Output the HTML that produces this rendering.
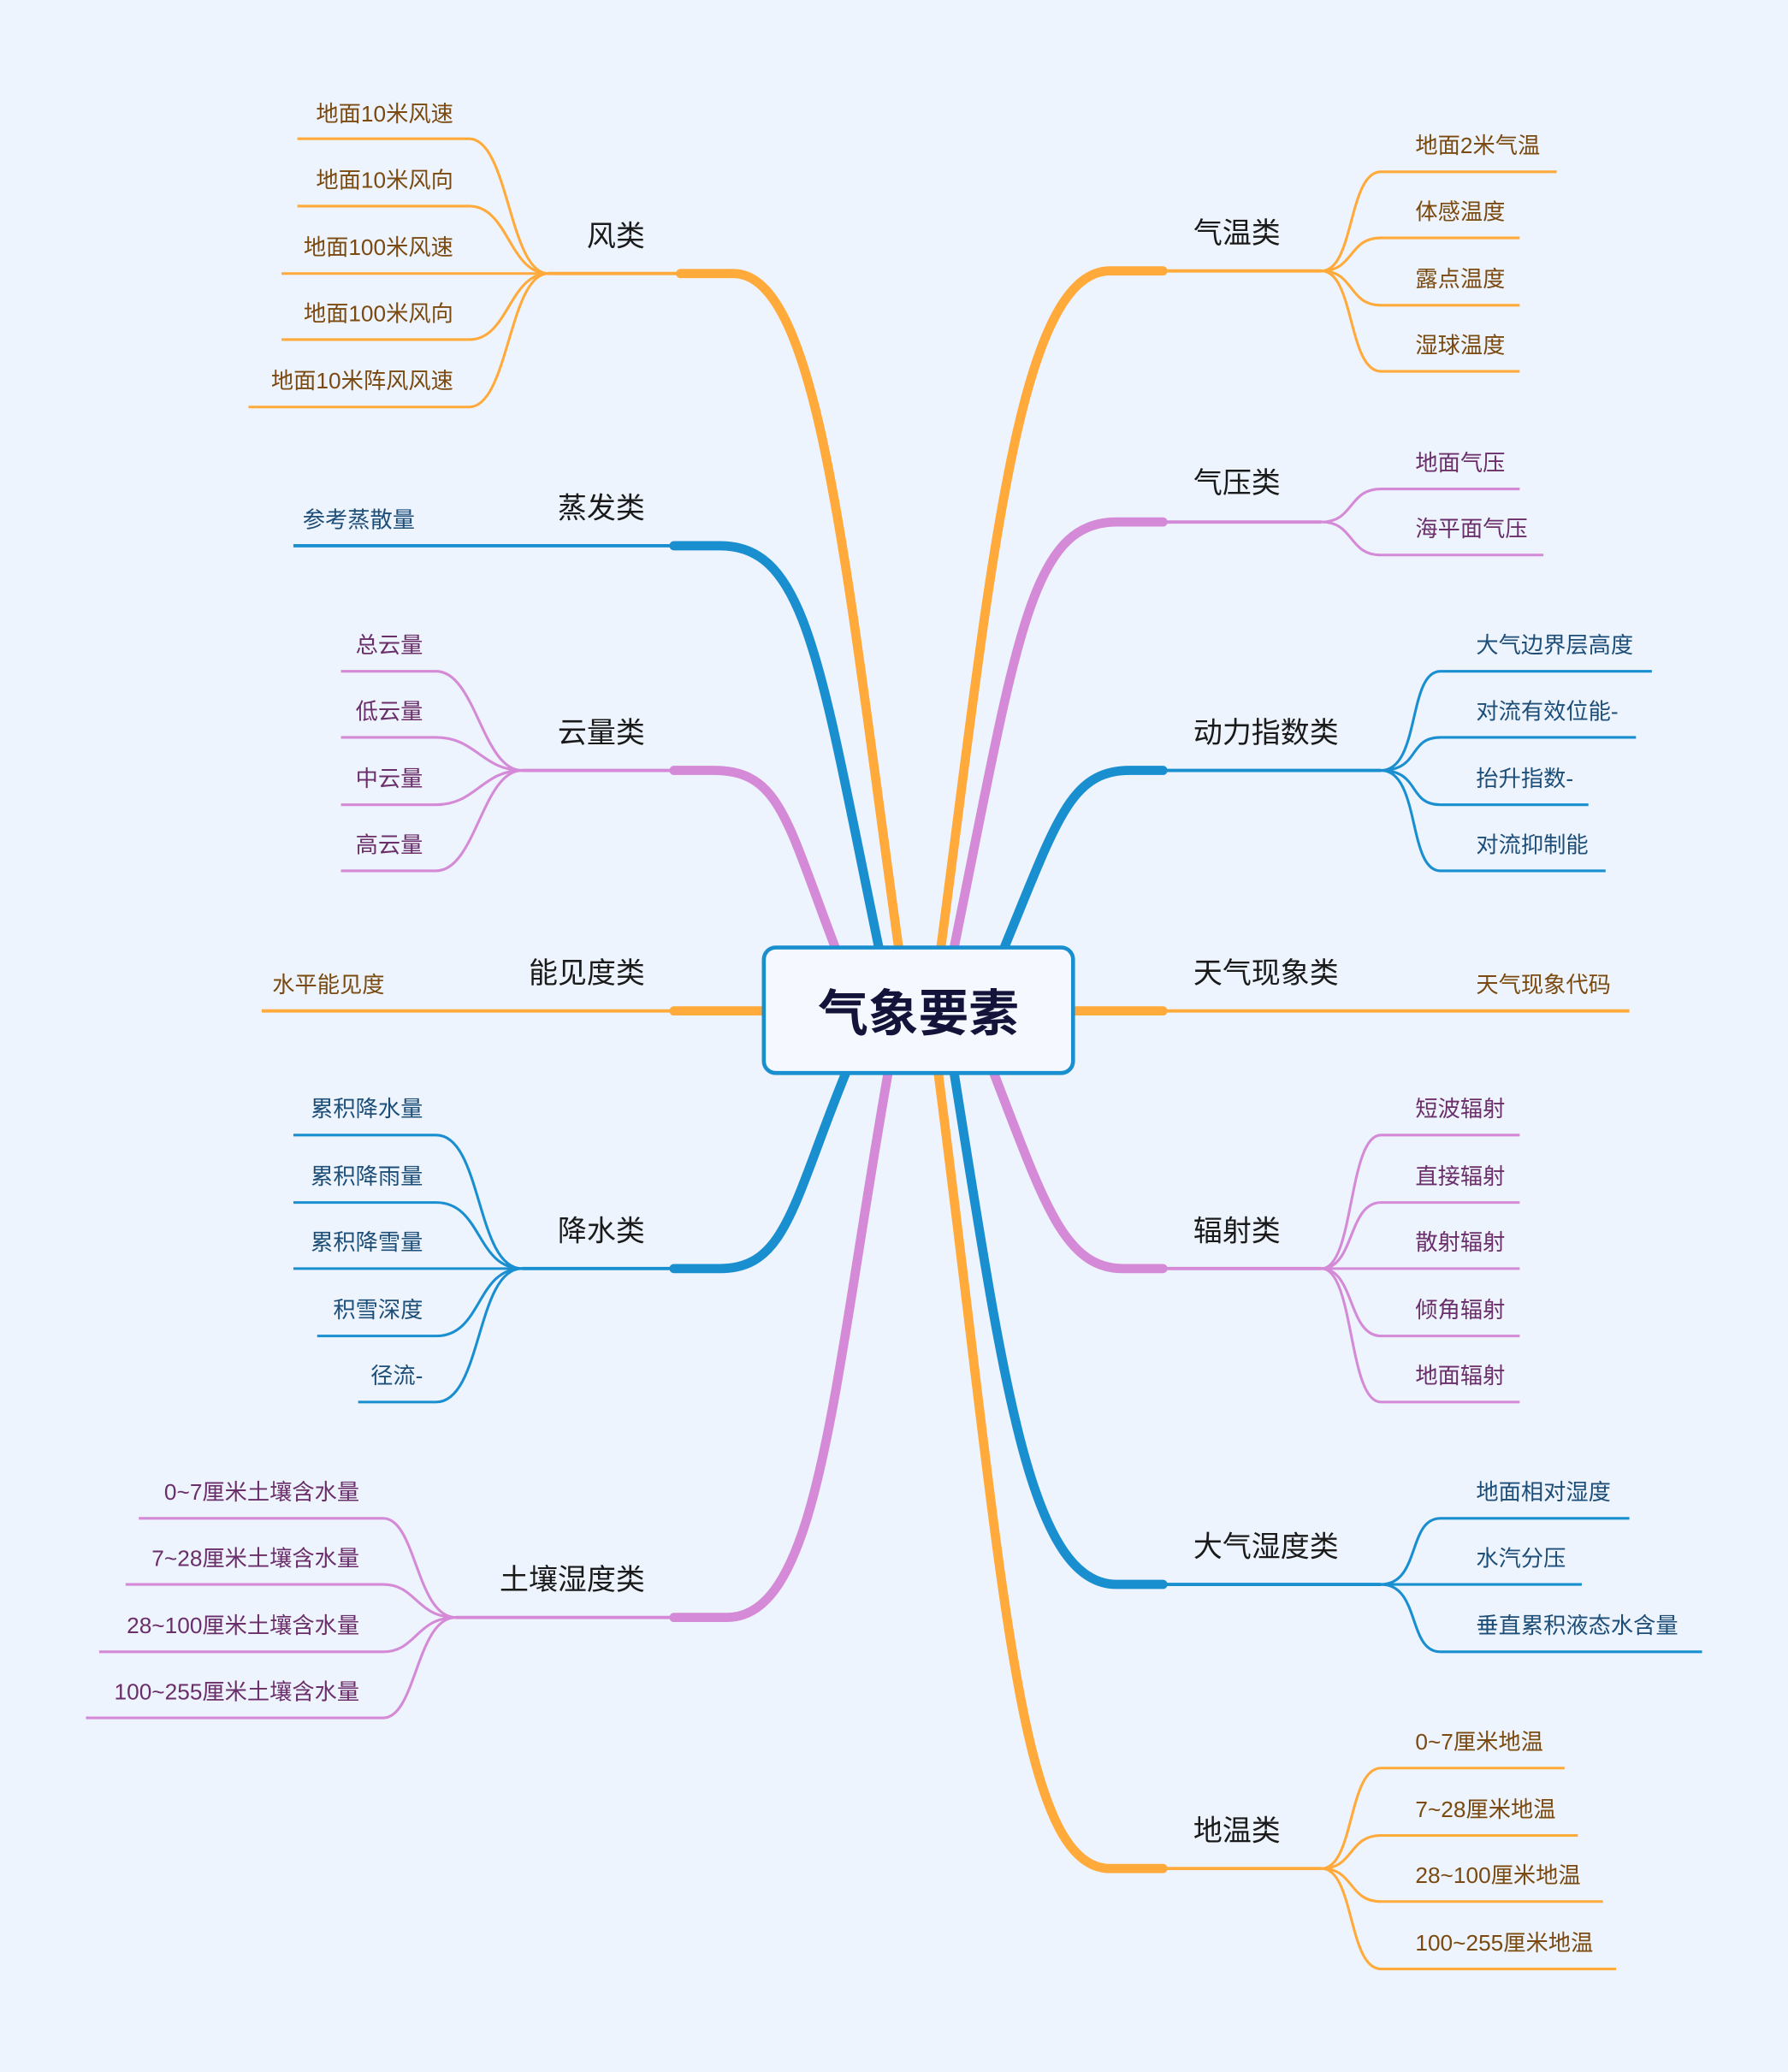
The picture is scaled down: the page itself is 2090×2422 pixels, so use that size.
<!DOCTYPE html>
<html><head><meta charset="utf-8"><style>
html,body{margin:0;padding:0;background:#eef4fe;}
svg{display:block;}
text{font-family:"Liberation Sans","Noto Sans CJK SC",sans-serif;}
.c{font-size:22px;fill:#1a1a1a;}
.lo{font-size:17px;fill:#7a4a10;}
.lp{font-size:17px;fill:#6a2e6a;}
.lb{font-size:17px;fill:#1d4e78;}
.o{stroke:#ffaa3a;fill:none;}
.p{stroke:#d48ad6;fill:none;}
.b{stroke:#1a8fd0;fill:none;}
.t{stroke-width:7;stroke-linecap:round;}
.m{stroke-width:2.5;}
.s{stroke-width:2;}
</style></head><body>
<svg width="2090" height="2422" viewBox="0 0 1353 1568" xmlns="http://www.w3.org/2000/svg">
<rect width="1353" height="1568" fill="#eef4fe"/>

<!-- RIGHT -->
<!-- 气温类 -->
<path class="o t" d="M712,717 C750,430 770,205 840,205 L880,205"/>
<path class="o m" d="M880,205 L1000,205"/>
<g class="o s">
<path d="M1000,205 C1025,205 1020,130 1045,130 L1178,130"/>
<path d="M1000,205 C1025,205 1020,180 1045,180 L1150,180"/>
<path d="M1000,205 C1025,205 1020,231 1045,231 L1150,231"/>
<path d="M1000,205 C1025,205 1020,281 1045,281 L1150,281"/>
</g>
<text class="c" x="903" y="184">气温类</text>
<text class="lo" x="1071" y="116">地面2米气温</text>
<text class="lo" x="1071" y="166">体感温度</text>
<text class="lo" x="1071" y="217">露点温度</text>
<text class="lo" x="1071" y="267">湿球温度</text>

<!-- 气压类 -->
<path class="p t" d="M722,717 C770,480 780,395 845,395 L880,395"/>
<path class="p m" d="M880,395 L1000,395"/>
<g class="p s">
<path d="M1000,395 C1025,395 1020,370 1045,370 L1150,370"/>
<path d="M1000,395 C1025,395 1020,420 1045,420 L1168,420"/>
</g>
<text class="c" x="903" y="373">气压类</text>
<text class="lp" x="1071" y="356">地面气压</text>
<text class="lp" x="1071" y="406">海平面气压</text>

<!-- 动力指数类 -->
<path class="b t" d="M760,717 C800,620 810,583 855,583 L880,583"/>
<path class="b m" d="M880,583 L1045,583"/>
<g class="b s">
<path d="M1045,583 C1075,583 1065,508 1090,508 L1250,508"/>
<path d="M1045,583 C1075,583 1065,558 1090,558 L1238,558"/>
<path d="M1045,583 C1075,583 1065,609 1090,609 L1202,609"/>
<path d="M1045,583 C1075,583 1065,659 1090,659 L1215,659"/>
</g>
<text class="c" x="903" y="562">动力指数类</text>
<text class="lb" x="1117" y="494">大气边界层高度</text>
<text class="lb" x="1117" y="544">对流有效位能-</text>
<text class="lb" x="1117" y="595">抬升指数-</text>
<text class="lb" x="1117" y="645">对流抑制能</text>

<!-- 天气现象类 -->
<path class="o t" d="M812,765 L880,765"/>
<path class="o m" d="M880,765 L1233,765"/>
<text class="c" x="903" y="744">天气现象类</text>
<text class="lo" x="1117" y="751">天气现象代码</text>

<!-- 辐射类 -->
<path class="p t" d="M752,812 C790,910 805,960 850,960 L880,960"/>
<path class="p m" d="M880,960 L1000,960"/>
<g class="p s">
<path d="M1000,960 C1025,960 1020,859 1045,859 L1150,859"/>
<path d="M1000,960 C1025,960 1020,910 1045,910 L1150,910"/>
<path d="M1000,960 C1025,960 1020,960 1045,960 L1150,960"/>
<path d="M1000,960 C1025,960 1020,1011 1045,1011 L1150,1011"/>
<path d="M1000,960 C1025,960 1020,1061 1045,1061 L1150,1061"/>
</g>
<text class="c" x="903" y="939">辐射类</text>
<text class="lp" x="1071" y="845">短波辐射</text>
<text class="lp" x="1071" y="896">直接辐射</text>
<text class="lp" x="1071" y="946">散射辐射</text>
<text class="lp" x="1071" y="997">倾角辐射</text>
<text class="lp" x="1071" y="1047">地面辐射</text>

<!-- 大气湿度类 -->
<path class="b t" d="M722,812 C760,1050 780,1199 845,1199 L880,1199"/>
<path class="b m" d="M880,1199 L1045,1199"/>
<g class="b s">
<path d="M1045,1199 C1075,1199 1065,1149 1090,1149 L1233,1149"/>
<path d="M1045,1199 C1075,1199 1065,1199 1090,1199 L1197,1199"/>
<path d="M1045,1199 C1075,1199 1065,1250 1090,1250 L1288,1250"/>
</g>
<text class="c" x="903" y="1178">大气湿度类</text>
<text class="lb" x="1117" y="1135">地面相对湿度</text>
<text class="lb" x="1117" y="1185">水汽分压</text>
<text class="lb" x="1117" y="1236">垂直累积液态水含量</text>

<!-- 地温类 -->
<path class="o t" d="M710,812 C760,1200 770,1414 840,1414 L880,1414"/>
<path class="o m" d="M880,1414 L1000,1414"/>
<g class="o s">
<path d="M1000,1414 C1025,1414 1020,1338 1045,1338 L1184,1338"/>
<path d="M1000,1414 C1025,1414 1020,1389 1045,1389 L1194,1389"/>
<path d="M1000,1414 C1025,1414 1020,1439 1045,1439 L1213,1439"/>
<path d="M1000,1414 C1025,1414 1020,1490 1045,1490 L1223,1490"/>
</g>
<text class="c" x="903" y="1393">地温类</text>
<text class="lo" x="1071" y="1324">0~7厘米地温</text>
<text class="lo" x="1071" y="1375">7~28厘米地温</text>
<text class="lo" x="1071" y="1425">28~100厘米地温</text>
<text class="lo" x="1071" y="1476">100~255厘米地温</text>

<!-- LEFT -->
<!-- 风类 -->
<path class="o t" d="M680,717 C640,430 620,207 555,207 L515,207"/>
<path class="o m" d="M515,207 L415,207"/>
<g class="o s">
<path d="M415,207 C385,207 385,105 355,105 L225,105"/>
<path d="M415,207 C385,207 385,156 355,156 L225,156"/>
<path d="M415,207 L213,207"/>
<path d="M415,207 C385,207 385,257 355,257 L213,257"/>
<path d="M415,207 C385,207 385,308 355,308 L188,308"/>
</g>
<text class="c" x="488" y="186" text-anchor="end">风类</text>
<text class="lo" x="343" y="92" text-anchor="end">地面10米风速</text>
<text class="lo" x="343" y="142" text-anchor="end">地面10米风向</text>
<text class="lo" x="343" y="193" text-anchor="end">地面100米风速</text>
<text class="lo" x="343" y="243" text-anchor="end">地面100米风向</text>
<text class="lo" x="343" y="294" text-anchor="end">地面10米阵风风速</text>

<!-- 蒸发类 -->
<path class="b t" d="M665,717 C620,500 610,413 545,413 L510,413"/>
<path class="b m" d="M510,413 L222,413"/>
<text class="c" x="488" y="392" text-anchor="end">蒸发类</text>
<text class="lb" x="229" y="399">参考蒸散量</text>

<!-- 云量类 -->
<path class="p t" d="M632,717 C595,620 590,583 540,583 L510,583"/>
<path class="p m" d="M510,583 L395,583"/>
<g class="p s">
<path d="M395,583 C365,583 360,508 330,508 L258,508"/>
<path d="M395,583 C365,583 360,558 330,558 L258,558"/>
<path d="M395,583 C365,583 360,609 330,609 L258,609"/>
<path d="M395,583 C365,583 360,659 330,659 L258,659"/>
</g>
<text class="c" x="488" y="562" text-anchor="end">云量类</text>
<text class="lp" x="320" y="494" text-anchor="end">总云量</text>
<text class="lp" x="320" y="544" text-anchor="end">低云量</text>
<text class="lp" x="320" y="595" text-anchor="end">中云量</text>
<text class="lp" x="320" y="645" text-anchor="end">高云量</text>

<!-- 能见度类 -->
<path class="o t" d="M578,765 L510,765"/>
<path class="o m" d="M510,765 L198,765"/>
<text class="c" x="488" y="744" text-anchor="end">能见度类</text>
<text class="lo" x="206" y="751">水平能见度</text>

<!-- 降水类 -->
<path class="b t" d="M640,812 C600,910 595,960 545,960 L510,960"/>
<path class="b m" d="M510,960 L395,960"/>
<g class="b s">
<path d="M395,960 C360,960 365,859 330,859 L222,859"/>
<path d="M395,960 C360,960 365,910 330,910 L222,910"/>
<path d="M395,960 L222,960"/>
<path d="M395,960 C360,960 365,1011 330,1011 L240,1011"/>
<path d="M395,960 C360,960 365,1061 330,1061 L271,1061"/>
</g>
<text class="c" x="488" y="939" text-anchor="end">降水类</text>
<text class="lb" x="320" y="845" text-anchor="end">累积降水量</text>
<text class="lb" x="320" y="896" text-anchor="end">累积降雨量</text>
<text class="lb" x="320" y="946" text-anchor="end">累积降雪量</text>
<text class="lb" x="320" y="997" text-anchor="end">积雪深度</text>
<text class="lb" x="320" y="1047" text-anchor="end">径流-</text>

<!-- 土壤湿度类 -->
<path class="p t" d="M672,812 C630,1050 620,1224 550,1224 L510,1224"/>
<path class="p m" d="M510,1224 L345,1224"/>
<g class="p s">
<path d="M345,1224 C315,1224 315,1149 290,1149 L105,1149"/>
<path d="M345,1224 C315,1224 315,1199 290,1199 L95,1199"/>
<path d="M345,1224 C315,1224 315,1250 290,1250 L75,1250"/>
<path d="M345,1224 C315,1224 315,1300 290,1300 L65,1300"/>
</g>
<text class="c" x="488" y="1203" text-anchor="end">土壤湿度类</text>
<text class="lp" x="272" y="1135" text-anchor="end">0~7厘米土壤含水量</text>
<text class="lp" x="272" y="1185" text-anchor="end">7~28厘米土壤含水量</text>
<text class="lp" x="272" y="1236" text-anchor="end">28~100厘米土壤含水量</text>
<text class="lp" x="272" y="1286" text-anchor="end">100~255厘米土壤含水量</text>

<!-- Center -->
<rect x="578" y="717" width="234" height="95" rx="9" ry="9" fill="#f5f9ff" stroke="#1a8fd0" stroke-width="3"/>
<text x="695" y="780" text-anchor="middle" style="font-size:38px;font-weight:bold;fill:#14143a;">气象要素</text>
</svg>
</body></html>
